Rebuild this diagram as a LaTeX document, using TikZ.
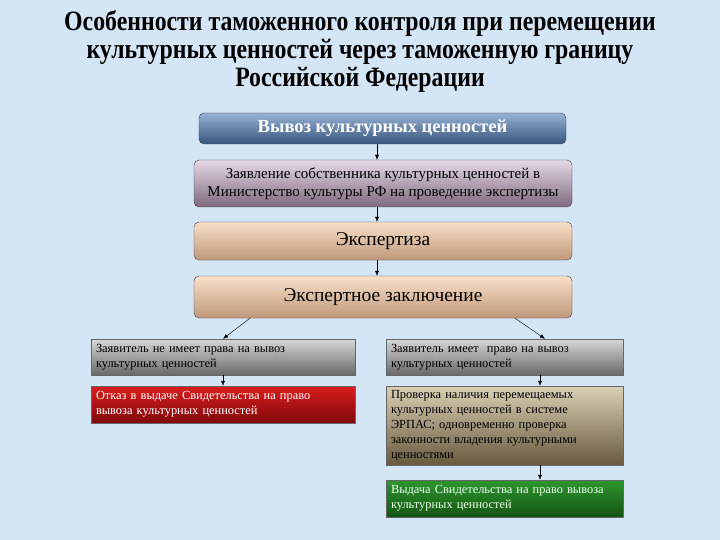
\documentclass[tikz,border=0pt]{standalone}
\usepackage{fontspec}
\setmainfont{Liberation Serif}
\usetikzlibrary{arrows.meta}

\definecolor{bgblue}{RGB}{212,229,246}
\definecolor{blueA}{RGB}{150,178,212}
\definecolor{blueB}{RGB}{55,85,125}
\definecolor{lilacA}{RGB}{230,217,230}
\definecolor{lilacB}{RGB}{125,105,125}
\definecolor{peachA}{RGB}{248,224,200}
\definecolor{peachB}{RGB}{192,152,122}
\definecolor{grayA}{RGB}{215,215,215}
\definecolor{grayB}{RGB}{105,105,105}
\definecolor{redA}{RGB}{218,28,28}
\definecolor{redB}{RGB}{128,10,10}
\definecolor{oliveA}{RGB}{218,208,180}
\definecolor{oliveB}{RGB}{105,90,62}
\definecolor{greenA}{RGB}{45,150,45}
\definecolor{greenB}{RGB}{20,85,20}

\tikzset{
  box/.style={draw=black!75, rounded corners=5pt, minimum width=378pt,
    align=center, inner sep=2pt, font=\fontsize{19.5}{21}\selectfont},
  peach/.style={top color=peachA, bottom color=peachB},
  sbox/.style={draw=black!60, align=left, inner xsep=5pt, inner ysep=2pt,
    font=\fontsize{12.4}{15}\selectfont},
  graybox/.style={sbox, text width=227pt, top color=grayA, bottom color=grayB},
  arr/.style={-{Latex[length=5pt,width=4pt]}, thin, black},
}

\begin{document}
\begin{tikzpicture}[x=1pt, y=-1pt]

  % background
  \fill[bgblue] (0,0) rectangle (720,540);

  % title
  \node[font=\bfseries\fontsize{28}{28}\selectfont, align=center, xscale=0.85, transform shape]
    (title) at (360,51)
    {Особенности таможенного контроля при перемещении\\
     культурных ценностей через таможенную границу\\
     Российской Федерации};

  % main column
  \node[box, minimum width=367pt, minimum height=31pt, top color=blueA, bottom color=blueB,
    text=white, font=\bfseries\fontsize{18.5}{20}\selectfont] (export) at (382.5,128.5)
    {Вывоз культурных ценностей};
  \node[box, minimum height=47pt, top color=lilacA, bottom color=lilacB,
    font=\fontsize{15}{18}\selectfont] (appl) at (383,183.5)
    {Заявление собственника культурных ценностей в\\
     Министерство культуры РФ на проведение экспертизы};
  \node[box, peach, minimum height=38pt] (exam) at (383,241) {Экспертиза};
  \node[box, peach, minimum height=42pt] (concl) at (383,297) {Экспертное заключение};

  % left branch
  \node[graybox, text width=254pt, minimum height=36pt] (noright) at (223,357)
    {Заявитель не имеет права на вывоз\\культурных ценностей};
  \node[sbox, text width=254pt, minimum height=37pt, top color=redA, bottom color=redB,
    text=white] (refuse) at (223,404.5)
    {Отказ в выдаче Свидетельства на право\\вывоза культурных ценностей};

  % right branch
  \node[graybox, minimum height=36pt] (right) at (504.5,357)
    {Заявитель имеет\ \ право на вывоз\\культурных ценностей};
  \node[sbox, text width=227pt, minimum height=79pt, top color=oliveA, bottom color=oliveB]
    (check) at (504.5,425.5)
    {Проверка наличия перемещаемых\\
     культурных ценностей в системе\\
     ЭРПАС; одновременно проверка\\
     законности владения культурными\\
     ценностями};
  \node[sbox, text width=227pt, minimum height=37pt, top color=greenA, bottom color=greenB,
    text=green!8] (issue) at (504.5,498.5)
    {Выдача Свидетельства на право вывоза\\культурных ценностей};

  % connectors
  \coordinate (mid) at (377,0);
  \coordinate (rmid) at (540,0);
  \coordinate (rtip) at (545,0);
  \draw[arr] (export.south -| mid) -- (appl.north -| mid);
  \draw[arr] (appl.south -| mid) -- (exam.north -| mid);
  \draw[arr] (exam.south -| mid) -- (concl.north -| mid);
  \draw[arr] ([xshift=-133pt]concl.south) -- (noright.north);
  \draw[arr] ([xshift=132pt]concl.south) -- (right.north -| rtip);
  \draw[arr] (noright) -- (refuse);
  \draw[arr] (right.south -| rmid) -- (check.north -| rmid);
  \draw[arr] (check.south -| rmid) -- (issue.north -| rmid);

\end{tikzpicture}
\end{document}
